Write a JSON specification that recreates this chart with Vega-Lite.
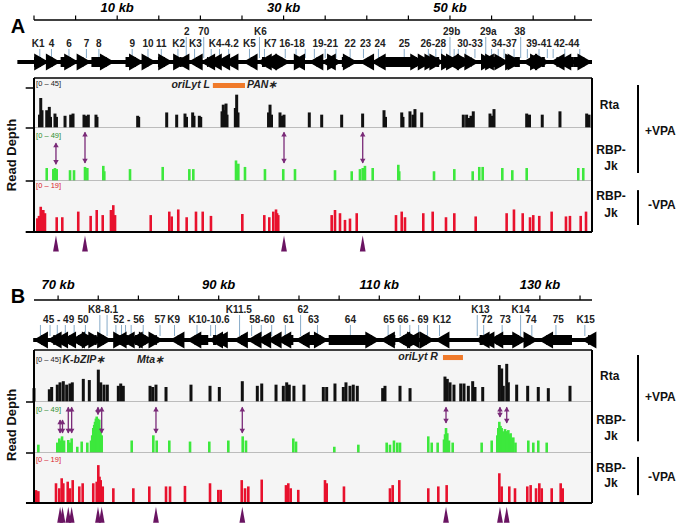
{
"$schema":"https://vega.github.io/schema/vega-lite/v6.json",
"width":683,"height":528,"autosize":{"type":"none"},"padding":0,"background":"white",
"config":{"view":{"stroke":null},"font":"Liberation Sans","text":{"font":"Liberation Sans"}},
"datasets":{
"rulerA":[{"k":0},{"k":5},{"k":10},{"k":15},{"k":20},{"k":25},{"k":30},{"k":35},{"k":40},{"k":45},{"k":50},{"k":55},{"k":60},{"k":65}],
"kbA":[{"k":10,"t":"10 kb"},{"k":30,"t":"30 kb"},{"k":50,"t":"50 kb"}],
"rulerB":[{"k":70},{"k":75},{"k":80},{"k":85},{"k":90},{"k":95},{"k":100},{"k":105},{"k":110},{"k":115},{"k":120},{"k":125},{"k":130},{"k":135}],
"kbB":[{"k":70,"t":"70 kb"},{"k":90,"t":"90 kb"},{"k":110,"t":"110 kb"},{"k":130,"t":"130 kb"}],
"genesA":[
{"n":"K1","s":0.0,"e":1.8,"d":"+","m":0.7},{"n":"4","s":1.8,"e":3.2,"d":"+","m":2.1},{"n":"6","s":3.2,"e":5.4,"d":"+","m":4.2},{"n":"7","s":5.4,"e":6.9,"d":"+","m":6.3},{"n":"8","s":6.9,"e":9.7,"d":"+","m":7.8},{"n":"9","s":11.0,"e":13.2,"d":"+","m":11.8},{"n":"10","s":13.2,"e":14.7,"d":"+","m":13.7},{"n":"11","s":14.9,"e":16.7,"d":"+","m":15.3},{"n":"K2","s":16.9,"e":17.7,"d":"-","m":17.3},{"n":"2","s":17.7,"e":18.5,"d":"+","m":18.3},{"n":"K3","s":18.5,"e":20.0,"d":"-","m":19.3},{"n":"70","s":20.0,"e":20.8,"d":"-","m":20.4},{"n":"K4","s":20.8,"e":21.8,"d":"-","m":21.3},{"n":"K4.1","s":21.8,"e":22.8,"d":"-","m":22.3},{"n":"K4.2","s":22.8,"e":23.9,"d":"-","m":23.4},{"n":"K5","s":25.1,"e":26.8,"d":"-","m":25.9},{"n":"K6","s":26.8,"e":27.4,"d":"-","m":27.1},{"n":"K7","s":27.4,"e":28.0,"d":"-","m":27.7},{"n":"16","s":29.6,"e":30.8,"d":"+","m":30.2},{"n":"17","s":30.8,"e":32.2,"d":"-","m":31.5},{"n":"18","s":32.2,"e":33.0,"d":"+","m":32.6},{"n":"19","s":33.0,"e":34.5,"d":"-","m":33.7},{"n":"20","s":34.5,"e":35.6,"d":"-","m":35.0},{"n":"21","s":35.6,"e":37.0,"d":"+","m":36.3},{"n":"22","s":37.0,"e":38.9,"d":"+","m":38.0},{"n":"23","s":39.1,"e":40.1,"d":"-","m":39.6},{"n":"24","s":40.5,"e":42.3,"d":"-","m":41.4},{"n":"25","s":42.3,"e":47.0,"d":"+","m":44.5},{"n":"26","s":47.0,"e":47.9,"d":"+","m":47.4},{"n":"27","s":47.9,"e":48.7,"d":"+","m":48.3},{"n":"28","s":48.7,"e":49.3,"d":"+","m":49.0},{"n":"29b","s":49.3,"e":50.2,"d":"-","m":50.0},{"n":"30","s":50.2,"e":50.7,"d":"+","m":50.5},{"n":"31","s":50.7,"e":51.3,"d":"+","m":51.0},{"n":"32","s":51.3,"e":52.6,"d":"+","m":51.9},{"n":"33","s":52.6,"e":53.5,"d":"+","m":53.0},{"n":"29a","s":53.5,"e":54.6,"d":"-","m":54.3},{"n":"34","s":54.6,"e":55.5,"d":"+","m":55.0},{"n":"35","s":55.5,"e":56.0,"d":"+","m":55.8},{"n":"36","s":56.0,"e":57.1,"d":"+","m":56.5},{"n":"37","s":57.1,"e":58.4,"d":"+","m":57.7},{"n":"38","s":58.4,"e":58.7,"d":"+","m":58.5},{"n":"39","s":58.7,"e":60.0,"d":"-","m":59.3},{"n":"40","s":60.1,"e":61.4,"d":"+","m":60.7},{"n":"41","s":61.4,"e":62.0,"d":"+","m":61.7},{"n":"42","s":62.0,"e":62.8,"d":"-","m":62.4},{"n":"43","s":62.8,"e":64.8,"d":"-","m":63.8},{"n":"44","s":64.8,"e":67.1,"d":"+","m":65.6}],
"genesB":[
{"n":"45","s":66.9,"e":68.6,"d":"-","m":67.8},{"n":"46","s":68.6,"e":69.4,"d":"-","m":69.0},{"n":"47","s":69.4,"e":70.4,"d":"-","m":69.9},{"n":"48","s":70.4,"e":71.5,"d":"-","m":70.9},{"n":"49","s":71.5,"e":72.5,"d":"-","m":72.0},{"n":"50","s":72.5,"e":74.8,"d":"+","m":73.4},{"n":"K8","s":74.8,"e":75.6,"d":"+","m":75.2},{"n":"K8.1","s":75.6,"e":76.7,"d":"+","m":76.1},{"n":"52","s":76.7,"e":77.7,"d":"-","m":77.2},{"n":"53","s":77.7,"e":78.2,"d":"-","m":77.9},{"n":"54","s":78.2,"e":78.7,"d":"+","m":78.4},{"n":"55","s":78.7,"e":79.6,"d":"-","m":79.1},{"n":"56","s":79.6,"e":81.9,"d":"+","m":80.6},{"n":"57","s":82.3,"e":83.1,"d":"+","m":82.7},{"n":"K9","s":83.9,"e":85.2,"d":"-","m":84.5},{"n":"K10","s":86.0,"e":88.7,"d":"-","m":87.3},{"n":"K10.5","s":88.7,"e":89.3,"d":"-","m":89.0},{"n":"K10.6","s":89.3,"e":90.0,"d":"-","m":89.6},{"n":"K11.5","s":91.8,"e":93.1,"d":"-","m":92.6},{"n":"58","s":93.5,"e":94.7,"d":"-","m":94.1},{"n":"59","s":94.7,"e":96.0,"d":"-","m":95.3},{"n":"60","s":96.0,"e":97.2,"d":"-","m":96.6},{"n":"61","s":97.2,"e":99.3,"d":"-","m":98.3},{"n":"62","s":99.5,"e":100.7,"d":"-","m":100.2},{"n":"63","s":101.0,"e":103.7,"d":"+","m":102.3},{"n":"64","s":103.7,"e":110.1,"d":"+","m":106.4},{"n":"65","s":110.1,"e":112.0,"d":"-","m":111.1},{"n":"66","s":112.0,"e":113.2,"d":"-","m":112.6},{"n":"67","s":113.2,"e":114.4,"d":"-","m":113.8},{"n":"68","s":114.4,"e":115.3,"d":"+","m":114.9},{"n":"69","s":115.3,"e":116.9,"d":"+","m":116.0},{"n":"K12","s":116.9,"e":117.9,"d":"-","m":117.5},{"n":"K13","s":121.9,"e":122.5,"d":"-","m":122.2},{"n":"72","s":122.5,"e":123.6,"d":"-","m":123.0},{"n":"73","s":123.6,"e":127.1,"d":"-","m":125.3},{"n":"K14","s":127.1,"e":128.4,"d":"+","m":127.6},{"n":"74","s":128.4,"e":129.8,"d":"+","m":129.0},{"n":"75","s":129.8,"e":134.0,"d":"-","m":132.0},{"n":"K15","s":135.2,"e":136.0,"d":"-","m":135.6}],
"labelsA":[
{"t":"K1","k":0.5,"r":"lo"},{"t":"4","k":2.1,"r":"lo"},{"t":"6","k":4.2,"r":"lo"},{"t":"7","k":6.3,"r":"lo"},{"t":"8","k":7.8,"r":"lo"},{"t":"9","k":11.8,"r":"lo"},{"t":"10","k":13.7,"r":"lo"},{"t":"11","k":15.3,"r":"lo"},{"t":"K2","k":17.4,"r":"lo"},{"t":"K3","k":19.4,"r":"lo"},{"t":"K4-4.2","k":22.8,"r":"lo"},{"t":"K5","k":25.9,"r":"lo"},{"t":"K7","k":28.4,"r":"lo"},{"t":"16-18","k":31.0,"r":"lo"},{"t":"19-21","k":35.0,"r":"lo"},{"t":"22","k":38.0,"r":"lo"},{"t":"23","k":39.85,"r":"lo"},{"t":"24","k":41.6,"r":"lo"},{"t":"25","k":44.5,"r":"lo"},{"t":"26-28","k":48.0,"r":"lo"},{"t":"30-33","k":52.4,"r":"lo"},{"t":"34-37","k":56.5,"r":"lo"},{"t":"39-41","k":60.7,"r":"lo"},{"t":"42-44","k":64.0,"r":"lo"},
{"t":"2","k":18.35,"r":"hi"},{"t":"70","k":20.4,"r":"hi"},{"t":"K6","k":27.2,"r":"hi"},{"t":"29b","k":50.2,"r":"hi"},{"t":"29a","k":54.6,"r":"hi"},{"t":"38","k":58.4,"r":"hi"}],
"labelsB":[
{"t":"45 - 49","k":70.07,"r":"lo"},{"t":"50","k":73.1,"r":"lo"},{"t":"52 - 56","k":78.8,"r":"lo"},{"t":"57","k":82.7,"r":"lo"},{"t":"K9","k":84.4,"r":"lo"},{"t":"K10-10.6","k":88.8,"r":"lo"},{"t":"58-60","k":95.4,"r":"lo"},{"t":"61","k":98.7,"r":"lo"},{"t":"63","k":101.8,"r":"lo"},{"t":"64","k":106.4,"r":"lo"},{"t":"65","k":111.2,"r":"lo"},{"t":"66 - 69","k":114.2,"r":"lo"},{"t":"K12","k":117.8,"r":"lo"},{"t":"72","k":123.4,"r":"lo"},{"t":"73","k":125.7,"r":"lo"},{"t":"74","k":128.9,"r":"lo"},{"t":"75","k":132.3,"r":"lo"},{"t":"K15","k":135.7,"r":"lo"},
{"t":"K8-8.1","k":75.6,"r":"hi"},{"t":"K11.5","k":92.5,"r":"hi"},{"t":"62","k":100.5,"r":"hi"},{"t":"K13","k":122.6,"r":"hi"},{"t":"K14","k":127.6,"r":"hi"}],
"rtaA":[{"k":0.66,"v":12},{"k":0.81,"v":27},{"k":0.96,"v":16},{"k":1.53,"v":16},{"k":1.68,"v":13},{"k":1.84,"v":19},{"k":1.98,"v":10},{"k":2.52,"v":13},{"k":2.7,"v":10},{"k":3.73,"v":11},{"k":4.41,"v":12},{"k":4.57,"v":10},{"k":4.69,"v":13},{"k":6.01,"v":12},{"k":6.25,"v":11},{"k":6.53,"v":12},{"k":7.45,"v":12},{"k":7.57,"v":10},{"k":12.46,"v":11},{"k":12.58,"v":10},{"k":15.95,"v":14},{"k":17.15,"v":12},{"k":18.15,"v":13},{"k":18.33,"v":10},{"k":19.07,"v":14},{"k":19.23,"v":11},{"k":19.87,"v":11},{"k":20.04,"v":10},{"k":22.6,"v":15},{"k":22.75,"v":21},{"k":22.92,"v":16},{"k":23.08,"v":22},{"k":23.2,"v":12},{"k":24.2,"v":18},{"k":24.36,"v":30},{"k":24.52,"v":14},{"k":28.19,"v":14},{"k":28.37,"v":21},{"k":28.55,"v":12},{"k":29.57,"v":14},{"k":29.81,"v":11},{"k":30.05,"v":12},{"k":33.09,"v":14},{"k":34.58,"v":12},{"k":36.98,"v":12},{"k":39.5,"v":13},{"k":42.07,"v":16},{"k":42.25,"v":10},{"k":44.2,"v":14},{"k":44.35,"v":10},{"k":45.19,"v":15},{"k":45.55,"v":12},{"k":45.79,"v":17},{"k":46.6,"v":14},{"k":51.6,"v":12},{"k":52.0,"v":12},{"k":52.28,"v":9},{"k":52.52,"v":11},{"k":52.8,"v":15},{"k":54.81,"v":13},{"k":55.05,"v":11},{"k":55.29,"v":17},{"k":59.22,"v":13},{"k":59.56,"v":12},{"k":61.09,"v":12},{"k":63.22,"v":15},{"k":66.43,"v":13},{"k":66.71,"v":12}],
"greenA":[{"k":1.53,"v":12},{"k":2.32,"v":11},{"k":2.52,"v":12},{"k":2.73,"v":11},{"k":4.33,"v":10},{"k":4.81,"v":10},{"k":6.13,"v":13},{"k":6.41,"v":12},{"k":8.33,"v":14},{"k":8.45,"v":9},{"k":11.54,"v":11},{"k":15.47,"v":13},{"k":18.67,"v":11},{"k":19.15,"v":11},{"k":24.28,"v":19},{"k":24.42,"v":12},{"k":24.56,"v":16},{"k":25.36,"v":13},{"k":27.76,"v":11},{"k":29.96,"v":11},{"k":31.37,"v":11},{"k":36.18,"v":10},{"k":38.19,"v":9},{"k":39.18,"v":11},{"k":39.51,"v":12},{"k":39.78,"v":14},{"k":40.71,"v":12},{"k":43.79,"v":15},{"k":43.9,"v":9},{"k":48.08,"v":9},{"k":50.52,"v":11},{"k":52.73,"v":9},{"k":53.52,"v":13},{"k":53.93,"v":13},{"k":56.29,"v":12},{"k":57.49,"v":10},{"k":59.22,"v":12},{"k":65.42,"v":12},{"k":66.02,"v":12}],
"redA":[{"k":0.4,"v":5.1},{"k":0.6,"v":6},{"k":0.81,"v":9.4},{"k":0.96,"v":7},{"k":1.12,"v":8.2},{"k":1.32,"v":7},{"k":2.73,"v":5.5},{"k":3.4,"v":5.5},{"k":5.32,"v":7.6},{"k":6.81,"v":6},{"k":7.54,"v":8.2},{"k":8.26,"v":6.3},{"k":9.25,"v":8.2},{"k":9.4,"v":7},{"k":9.53,"v":10},{"k":9.74,"v":6.3},{"k":14.03,"v":6.3},{"k":16.26,"v":7.6},{"k":16.55,"v":5.8},{"k":17.34,"v":8.4},{"k":18.35,"v":5.5},{"k":19.47,"v":7.6},{"k":20.28,"v":7.6},{"k":21.27,"v":6},{"k":25.04,"v":6.7},{"k":27.68,"v":6.3},{"k":28.28,"v":5.5},{"k":28.76,"v":7.6},{"k":29.09,"v":8.4},{"k":29.22,"v":7},{"k":29.36,"v":6.3},{"k":35.78,"v":6.3},{"k":36.18,"v":8.2},{"k":36.78,"v":7},{"k":37.38,"v":4.5},{"k":37.98,"v":5},{"k":38.79,"v":7},{"k":43.51,"v":6.3},{"k":44.2,"v":7.6},{"k":44.59,"v":5.5},{"k":46.79,"v":7},{"k":47.92,"v":7.6},{"k":49.52,"v":5.5},{"k":50.52,"v":7},{"k":53.09,"v":5.8},{"k":56.81,"v":7},{"k":57.69,"v":8.4},{"k":58.74,"v":7},{"k":59.62,"v":5.5},{"k":60.01,"v":6.3},{"k":60.73,"v":6},{"k":62.22,"v":7.6},{"k":63.94,"v":5.8},{"k":64.42,"v":6},{"k":65.71,"v":6},{"k":66.35,"v":7.6}],
"rtaB":[{"k":67.0,"v":12},{"k":68.91,"v":11},{"k":69.2,"v":13},{"k":69.9,"v":15},{"k":70.24,"v":17},{"k":70.65,"v":18},{"k":71.07,"v":15},{"k":71.48,"v":16},{"k":71.77,"v":17},{"k":73.14,"v":20},{"k":73.89,"v":19},{"k":75.01,"v":28},{"k":75.31,"v":17},{"k":75.72,"v":15},{"k":76.13,"v":15},{"k":77.5,"v":14},{"k":77.8,"v":16},{"k":78.12,"v":14},{"k":81.45,"v":14},{"k":81.78,"v":13},{"k":82.19,"v":15},{"k":83.44,"v":13},{"k":86.55,"v":15},{"k":88.92,"v":14},{"k":90.08,"v":13},{"k":92.94,"v":18},{"k":94.81,"v":14},{"k":95.36,"v":16},{"k":97.14,"v":15},{"k":98.05,"v":14},{"k":98.47,"v":17},{"k":98.79,"v":15},{"k":99.37,"v":14},{"k":100.62,"v":15},{"k":103.03,"v":13},{"k":103.45,"v":13},{"k":104.48,"v":16},{"k":105.52,"v":13},{"k":105.85,"v":17},{"k":106.35,"v":14},{"k":106.76,"v":15},{"k":107.26,"v":14},{"k":110.42,"v":12},{"k":110.71,"v":14},{"k":112.58,"v":14},{"k":113.83,"v":12},{"k":118.18,"v":22},{"k":118.47,"v":20},{"k":118.81,"v":17},{"k":119.3,"v":15},{"k":120.14,"v":16},{"k":120.55,"v":16},{"k":121.09,"v":14},{"k":121.63,"v":18},{"k":121.92,"v":13},{"k":122.88,"v":13},{"k":124.95,"v":32},{"k":125.24,"v":29},{"k":125.44,"v":14},{"k":125.87,"v":33},{"k":126.07,"v":17},{"k":127.11,"v":15},{"k":128.48,"v":14},{"k":129.8,"v":13},{"k":131.05,"v":12},{"k":133.75,"v":14}],
"greenB":[{"k":67.54,"v":8},{"k":69.9,"v":10},{"k":70.15,"v":14},{"k":70.32,"v":12},{"k":70.49,"v":16},{"k":70.74,"v":12},{"k":71.27,"v":12.5},{"k":71.48,"v":10},{"k":71.69,"v":14},{"k":72.39,"v":6},{"k":72.94,"v":11},{"k":73.64,"v":10},{"k":74.1,"v":12},{"k":74.25,"v":17},{"k":74.38,"v":24},{"k":74.5,"v":27},{"k":74.6,"v":30},{"k":74.71,"v":33},{"k":74.81,"v":35},{"k":74.97,"v":33},{"k":75.13,"v":32},{"k":75.28,"v":24},{"k":75.43,"v":17},{"k":79.17,"v":12},{"k":81.86,"v":17},{"k":82.28,"v":12},{"k":83.85,"v":12},{"k":86.43,"v":11},{"k":88.83,"v":11},{"k":91.2,"v":12},{"k":92.99,"v":16},{"k":93.4,"v":12},{"k":99.29,"v":14},{"k":99.63,"v":11},{"k":104.4,"v":6},{"k":107.39,"v":8},{"k":110.92,"v":10},{"k":111.33,"v":8},{"k":111.83,"v":12},{"k":112.24,"v":10},{"k":112.58,"v":10},{"k":116.1,"v":16},{"k":116.53,"v":10},{"k":117.27,"v":10},{"k":118.06,"v":13},{"k":118.19,"v":18},{"k":118.31,"v":24},{"k":118.47,"v":19},{"k":118.68,"v":12},{"k":119.14,"v":10},{"k":122.75,"v":10},{"k":124.0,"v":12},{"k":124.7,"v":17},{"k":124.82,"v":24},{"k":124.95,"v":30},{"k":125.1,"v":26},{"k":125.24,"v":24},{"k":125.35,"v":21},{"k":125.47,"v":20},{"k":125.66,"v":23},{"k":125.87,"v":21},{"k":126.07,"v":22},{"k":126.22,"v":18},{"k":126.36,"v":19},{"k":126.52,"v":14},{"k":126.69,"v":15},{"k":126.96,"v":10},{"k":128.56,"v":12},{"k":129.18,"v":10},{"k":129.8,"v":12},{"k":130.85,"v":10}],
"redB":[{"k":67.25,"v":4.9},{"k":67.54,"v":4.5},{"k":69.74,"v":7.5},{"k":70.15,"v":5.6},{"k":70.45,"v":9.4},{"k":70.65,"v":7.5},{"k":71.2,"v":8.1},{"k":71.48,"v":5.6},{"k":71.82,"v":8.7},{"k":72.64,"v":6.3},{"k":73.06,"v":7.5},{"k":74.38,"v":7.5},{"k":74.81,"v":8.1},{"k":75.01,"v":14.4},{"k":75.16,"v":10},{"k":75.31,"v":8.7},{"k":75.56,"v":6.3},{"k":76.88,"v":5.6},{"k":79.37,"v":5.6},{"k":81.36,"v":6.3},{"k":83.44,"v":6.3},{"k":83.94,"v":6.3},{"k":85.8,"v":6.5},{"k":88.92,"v":7.5},{"k":89.95,"v":5},{"k":90.25,"v":5},{"k":92.87,"v":8.7},{"k":93.28,"v":5.6},{"k":93.69,"v":6.3},{"k":95.36,"v":8.9},{"k":98.38,"v":6.8},{"k":98.67,"v":7.5},{"k":98.97,"v":5.6},{"k":99.91,"v":5},{"k":103.24,"v":8.7},{"k":103.45,"v":7.5},{"k":105.6,"v":6.3},{"k":111.33,"v":5.6},{"k":111.67,"v":6.8},{"k":112.49,"v":8.7},{"k":116.1,"v":5.6},{"k":117.35,"v":6.3},{"k":118.39,"v":6.8},{"k":124.95,"v":11.3},{"k":125.24,"v":6.3},{"k":126.19,"v":6.3},{"k":126.9,"v":5.6},{"k":128.43,"v":6.3},{"k":128.85,"v":6.8},{"k":129.52,"v":5.6},{"k":129.93,"v":7.5},{"k":130.23,"v":5.6},{"k":131.47,"v":5.6},{"k":132.59,"v":7.5},{"k":132.84,"v":5.6}],
"sitesA":[{"k":2.64,"hi":35,"lo":15.5},{"k":6.13,"hi":45,"lo":16.6},{"k":30.05,"hi":45,"lo":16.6},{"k":39.51,"hi":45,"lo":16.6}],
"sitesB":[{"k":70.25,"hi":31.7,"lo":19.2},{"k":70.55,"hi":31.7,"lo":19.2},{"k":71.27,"hi":44,"lo":19.2},{"k":71.69,"hi":44,"lo":19.2},{"k":74.97,"hi":44,"lo":37},{"k":75.43,"hi":44,"lo":19.2},{"k":82.19,"hi":44,"lo":19.2},{"k":92.94,"hi":44,"lo":19.2},{"k":118.31,"hi":44,"lo":28.8},{"k":125.03,"hi":44,"lo":34.6},{"k":125.87,"hi":44,"lo":28.8}]
},
"layer":[
{"layer":[
 {"layer":[
  {"data":{"values":[{}]},"mark":{"type":"rule","strokeWidth":1.5,"color":"black"},"encoding":{"x":{"datum":0,"scale":{"domain":[0,67.07],"range":[34,592],"nice":false,"zero":false},"axis":null},"x2":{"datum":67.07},"y":{"datum":20,"scale":{"domain":[0,78],"range":[0,78],"nice":false,"zero":false},"axis":null}}},
  {"data":{"name":"rulerA"},"mark":{"type":"rule","strokeWidth":1.2,"color":"black"},"encoding":{"x":{"field":"k","type":"quantitative","scale":{"domain":[0,67.07],"range":[34,592],"nice":false,"zero":false},"axis":null},"y":{"datum":15.5,"scale":{"domain":[0,78],"range":[0,78],"nice":false,"zero":false},"axis":null},"y2":{"datum":20}}},
  {"data":{"name":"kbA"},"mark":{"type":"text","fontSize":13,"fontWeight":"bold","fontStyle":"italic","color":"black"},"encoding":{"x":{"field":"k","type":"quantitative","scale":{"domain":[0,67.07],"range":[34,592],"nice":false,"zero":false},"axis":null},"y":{"datum":8,"scale":{"domain":[0,78],"range":[0,78],"nice":false,"zero":false},"axis":null},"text":{"field":"t"}}},
  {"data":{"values":[{}]},"mark":{"type":"rule","strokeWidth":4,"color":"black"},"encoding":{"x":{"datum":-2,"scale":{"domain":[0,67.07],"range":[34,592],"nice":false,"zero":false},"axis":null},"x2":{"datum":67.07},"y":{"datum":62,"scale":{"domain":[0,78],"range":[0,78],"nice":false,"zero":false},"axis":null}}},
  {"data":{"name":"genesA"},"mark":{"type":"rule","color":"#86aac8","strokeWidth":1},"encoding":{"x":{"field":"m","type":"quantitative","scale":{"domain":[0,67.07],"range":[34,592],"nice":false,"zero":false},"axis":null},"y":{"datum":49,"scale":{"domain":[0,78],"range":[0,78],"nice":false,"zero":false},"axis":null},"y2":{"datum":58}}},
  {"data":{"name":"genesA"},"transform":[{"filter":{"field":"n","oneOf":["2","70","K6","29b","29a","38"]}}],"mark":{"type":"rule","color":"#86aac8","strokeWidth":1},"encoding":{"x":{"field":"m","type":"quantitative","scale":{"domain":[0,67.07],"range":[34,592],"nice":false,"zero":false},"axis":null},"y":{"datum":37,"scale":{"domain":[0,78],"range":[0,78],"nice":false,"zero":false},"axis":null},"y2":{"datum":49}}},
  {"data":{"name":"genesA"},"transform":[{"filter":"datum.d == '+'"}],"mark":{"type":"rect","color":"black","x2Offset":-8},"encoding":{"x":{"field":"s","type":"quantitative","scale":{"domain":[0,67.07],"range":[34,592],"nice":false,"zero":false},"axis":null},"x2":{"field":"e"},"y":{"datum":57,"scale":{"domain":[0,78],"range":[0,78],"nice":false,"zero":false},"axis":null},"y2":{"datum":67}}},
  {"data":{"name":"genesA"},"transform":[{"filter":"datum.d == '-'"}],"mark":{"type":"rect","color":"black","xOffset":8},"encoding":{"x":{"field":"s","type":"quantitative","scale":{"domain":[0,67.07],"range":[34,592],"nice":false,"zero":false},"axis":null},"x2":{"field":"e"},"y":{"datum":57,"scale":{"domain":[0,78],"range":[0,78],"nice":false,"zero":false},"axis":null},"y2":{"datum":67}}},
  {"data":{"name":"genesA"},"transform":[{"filter":"datum.d == '+'"}],"mark":{"type":"point","shape":"triangle-right","size":289,"filled":true,"color":"black","opacity":1,"strokeWidth":0,"xOffset":-7.4},"encoding":{"x":{"field":"e","type":"quantitative","scale":{"domain":[0,67.07],"range":[34,592],"nice":false,"zero":false},"axis":null},"y":{"datum":62,"scale":{"domain":[0,78],"range":[0,78],"nice":false,"zero":false},"axis":null}}},
  {"data":{"name":"genesA"},"transform":[{"filter":"datum.d == '-'"}],"mark":{"type":"point","shape":"triangle-left","size":289,"filled":true,"color":"black","opacity":1,"strokeWidth":0,"xOffset":7.4},"encoding":{"x":{"field":"s","type":"quantitative","scale":{"domain":[0,67.07],"range":[34,592],"nice":false,"zero":false},"axis":null},"y":{"datum":62,"scale":{"domain":[0,78],"range":[0,78],"nice":false,"zero":false},"axis":null}}},
  {"data":{"name":"labelsA"},"transform":[{"filter":"datum.r == 'lo'"}],"mark":{"type":"text","fontSize":10,"fontWeight":"bold","color":"#222"},"encoding":{"x":{"field":"k","type":"quantitative","scale":{"domain":[0,67.07],"range":[34,592],"nice":false,"zero":false},"axis":null},"y":{"datum":44,"scale":{"domain":[0,78],"range":[0,78],"nice":false,"zero":false},"axis":null},"text":{"field":"t"}}},
  {"data":{"name":"labelsA"},"transform":[{"filter":"datum.r == 'hi'"}],"mark":{"type":"text","fontSize":10,"fontWeight":"bold","color":"#222"},"encoding":{"x":{"field":"k","type":"quantitative","scale":{"domain":[0,67.07],"range":[34,592],"nice":false,"zero":false},"axis":null},"y":{"datum":32,"scale":{"domain":[0,78],"range":[0,78],"nice":false,"zero":false},"axis":null},"text":{"field":"t"}}},
  {"data":{"values":[{}]},"mark":{"type":"text","text":"A","fontSize":20,"fontWeight":"bold","color":"black"},"encoding":{"x":{"datum":-1.92,"scale":{"domain":[0,67.07],"range":[34,592],"nice":false,"zero":false},"axis":null},"y":{"datum":27,"scale":{"domain":[0,78],"range":[0,78],"nice":false,"zero":false},"axis":null}}}
 ]},
 {"layer":[
  {"data":{"values":[{}]},"mark":{"type":"rect","color":"#f5f5f5"},"encoding":{"x":{"datum":0,"scale":{"domain":[0,67.07],"range":[34,592],"nice":false,"zero":false},"axis":null},"x2":{"datum":67.07},"y":{"datum":0,"scale":{"domain":[0,45],"range":[128,78],"nice":false,"zero":false},"axis":null},"y2":{"datum":45}}},
  {"data":{"name":"rtaA"},"mark":{"type":"rule","color":"#111","strokeWidth":3},"encoding":{"x":{"field":"k","type":"quantitative","scale":{"domain":[0,67.07],"range":[34,592],"nice":false,"zero":false},"axis":null},"y":{"field":"v","type":"quantitative","scale":{"domain":[0,45],"range":[128,78],"nice":false,"zero":false},"axis":null},"y2":{"datum":0}}},
  {"data":{"values":[{}]},"mark":{"type":"rule","color":"#a8a8a8","strokeWidth":1.5},"encoding":{"x":{"datum":0,"scale":{"domain":[0,67.07],"range":[34,592],"nice":false,"zero":false},"axis":null},"x2":{"datum":67.07},"y":{"datum":0,"scale":{"domain":[0,45],"range":[128,78],"nice":false,"zero":false},"axis":null}}},
  {"data":{"values":[{}]},"mark":{"type":"rule","color":"black","strokeWidth":1.5},"encoding":{"x":{"datum":0,"scale":{"domain":[0,67.07],"range":[34,592],"nice":false,"zero":false},"axis":null},"x2":{"datum":67.07},"y":{"datum":45,"scale":{"domain":[0,45],"range":[128,78],"nice":false,"zero":false},"axis":null}}},
  {"data":{"values":[{"p":0},{"p":67.07}]},"mark":{"type":"rule","color":"black","strokeWidth":2},"encoding":{"x":{"field":"p","type":"quantitative","scale":{"domain":[0,67.07],"range":[34,592],"nice":false,"zero":false},"axis":null},"y":{"datum":0,"scale":{"domain":[0,45],"range":[128,78],"nice":false,"zero":false},"axis":null},"y2":{"datum":45}}},
  {"data":{"values":[{"v":0},{"v":36}]},"mark":{"type":"rule","color":"black","strokeWidth":1.5},"encoding":{"x":{"datum":-1,"scale":{"domain":[0,67.07],"range":[34,592],"nice":false,"zero":false},"axis":null},"x2":{"datum":0},"y":{"field":"v","type":"quantitative","scale":{"domain":[0,45],"range":[128,78],"nice":false,"zero":false},"axis":null}}},
  {"data":{"values":[{}]},"mark":{"type":"text","text":"[0 – 45]","fontSize":7.5,"align":"left","color":"#222"},"encoding":{"x":{"datum":0.25,"scale":{"domain":[0,67.07],"range":[34,592],"nice":false,"zero":false},"axis":null},"y":{"datum":39.6,"scale":{"domain":[0,45],"range":[128,78],"nice":false,"zero":false},"axis":null}}},
  {"data":{"values":[{}]},"mark":{"type":"rect","color":"#f07a2a"},"encoding":{"x":{"datum":21.5,"scale":{"domain":[0,67.07],"range":[34,592],"nice":false,"zero":false},"axis":null},"x2":{"datum":25.36},"y":{"datum":40.5,"scale":{"domain":[0,45],"range":[128,78],"nice":false,"zero":false},"axis":null},"y2":{"datum":36}}},
  {"data":{"values":[{}]},"mark":{"type":"text","text":"oriLyt L","fontSize":10.5,"fontWeight":"bold","fontStyle":"italic","align":"right","color":"#222"},"encoding":{"x":{"datum":21.15,"scale":{"domain":[0,67.07],"range":[34,592],"nice":false,"zero":false},"axis":null},"y":{"datum":38.5,"scale":{"domain":[0,45],"range":[128,78],"nice":false,"zero":false},"axis":null}}},
  {"data":{"values":[{}]},"mark":{"type":"text","text":"PAN∗","fontSize":10.5,"fontWeight":"bold","fontStyle":"italic","align":"left","color":"#222"},"encoding":{"x":{"datum":25.6,"scale":{"domain":[0,67.07],"range":[34,592],"nice":false,"zero":false},"axis":null},"y":{"datum":38.5,"scale":{"domain":[0,45],"range":[128,78],"nice":false,"zero":false},"axis":null}}},
  {"data":{"values":[{}]},"mark":{"type":"text","text":"Rta","fontSize":12,"fontWeight":"bold","align":"left","color":"#111"},"encoding":{"x":{"datum":68.0,"scale":{"domain":[0,67.07],"range":[34,592],"nice":false,"zero":false},"axis":null},"y":{"datum":21,"scale":{"domain":[0,45],"range":[128,78],"nice":false,"zero":false},"axis":null}}},
  {"data":{"values":[{}]},"mark":{"type":"text","text":"+VPA","fontSize":12,"fontWeight":"bold","align":"left","color":"#111"},"encoding":{"x":{"datum":73.44,"scale":{"domain":[0,67.07],"range":[34,592],"nice":false,"zero":false},"axis":null},"y":{"datum":-3,"scale":{"domain":[0,45],"range":[128,78],"nice":false,"zero":false},"axis":null}}},
  {"data":{"values":[{}]},"mark":{"type":"rule","color":"black","strokeWidth":2},"encoding":{"x":{"datum":72.6,"scale":{"domain":[0,67.07],"range":[34,592],"nice":false,"zero":false},"axis":null},"y":{"datum":38.7,"scale":{"domain":[0,45],"range":[128,78],"nice":false,"zero":false},"axis":null},"y2":{"datum":-40.5}}}
 ]},
 {"layer":[
  {"data":{"values":[{}]},"mark":{"type":"rect","color":"#f5f5f5"},"encoding":{"x":{"datum":0,"scale":{"domain":[0,67.07],"range":[34,592],"nice":false,"zero":false},"axis":null},"x2":{"datum":67.07},"y":{"datum":0,"scale":{"domain":[0,49],"range":[181,128],"nice":false,"zero":false},"axis":null},"y2":{"datum":49}}},
  {"data":{"name":"greenA"},"mark":{"type":"rule","color":"#3de83d","strokeWidth":2.6},"encoding":{"x":{"field":"k","type":"quantitative","scale":{"domain":[0,67.07],"range":[34,592],"nice":false,"zero":false},"axis":null},"y":{"field":"v","type":"quantitative","scale":{"domain":[0,49],"range":[181,128],"nice":false,"zero":false},"axis":null},"y2":{"datum":0}}},
  {"data":{"values":[{}]},"mark":{"type":"rule","color":"#a8a8a8","strokeWidth":1.5},"encoding":{"x":{"datum":0,"scale":{"domain":[0,67.07],"range":[34,592],"nice":false,"zero":false},"axis":null},"x2":{"datum":67.07},"y":{"datum":0,"scale":{"domain":[0,49],"range":[181,128],"nice":false,"zero":false},"axis":null}}},
  {"data":{"values":[{"p":0},{"p":67.07}]},"mark":{"type":"rule","color":"black","strokeWidth":2},"encoding":{"x":{"field":"p","type":"quantitative","scale":{"domain":[0,67.07],"range":[34,592],"nice":false,"zero":false},"axis":null},"y":{"datum":0,"scale":{"domain":[0,49],"range":[181,128],"nice":false,"zero":false},"axis":null},"y2":{"datum":49}}},
  {"data":{"values":[{}]},"mark":{"type":"rule","color":"black","strokeWidth":1.5},"encoding":{"x":{"datum":-1,"scale":{"domain":[0,67.07],"range":[34,592],"nice":false,"zero":false},"axis":null},"x2":{"datum":0},"y":{"datum":0,"scale":{"domain":[0,49],"range":[181,128],"nice":false,"zero":false},"axis":null}}},
  {"data":{"values":[{}]},"mark":{"type":"text","text":"[0 – 49]","fontSize":7.5,"align":"left","color":"#2f8f2f"},"encoding":{"x":{"datum":0.25,"scale":{"domain":[0,67.07],"range":[34,592],"nice":false,"zero":false},"axis":null},"y":{"datum":41.6,"scale":{"domain":[0,49],"range":[181,128],"nice":false,"zero":false},"axis":null}}},
  {"data":{"name":"sitesA"},"mark":{"type":"rule","color":"#7a2a78","strokeWidth":1.3},"encoding":{"x":{"field":"k","type":"quantitative","scale":{"domain":[0,67.07],"range":[34,592],"nice":false,"zero":false},"axis":null},"y":{"field":"hi","type":"quantitative","scale":{"domain":[0,49],"range":[181,128],"nice":false,"zero":false},"axis":null},"y2":{"field":"lo"}}},
  {"data":{"name":"sitesA"},"mark":{"type":"point","shape":"triangle-up","size":30,"filled":true,"opacity":1,"color":"#7a2a78","yOffset":1.8},"encoding":{"x":{"field":"k","type":"quantitative","scale":{"domain":[0,67.07],"range":[34,592],"nice":false,"zero":false},"axis":null},"y":{"field":"hi","type":"quantitative","scale":{"domain":[0,49],"range":[181,128],"nice":false,"zero":false},"axis":null}}},
  {"data":{"name":"sitesA"},"mark":{"type":"point","shape":"triangle-down","size":30,"filled":true,"opacity":1,"color":"#7a2a78","yOffset":-1.8},"encoding":{"x":{"field":"k","type":"quantitative","scale":{"domain":[0,67.07],"range":[34,592],"nice":false,"zero":false},"axis":null},"y":{"field":"lo","type":"quantitative","scale":{"domain":[0,49],"range":[181,128],"nice":false,"zero":false},"axis":null}}},
  {"data":{"values":[{"t":"RBP-","v":28.7},{"t":"Jk","v":13.9}]},"mark":{"type":"text","fontSize":12,"fontWeight":"bold","color":"#111"},"encoding":{"x":{"datum":69.35,"scale":{"domain":[0,67.07],"range":[34,592],"nice":false,"zero":false},"axis":null},"y":{"field":"v","type":"quantitative","scale":{"domain":[0,49],"range":[181,128],"nice":false,"zero":false},"axis":null},"text":{"field":"t"}}},
  {"data":{"values":[{}]},"mark":{"type":"text","text":"Read Depth","fontSize":13,"fontWeight":"bold","angle":270,"color":"#111"},"encoding":{"x":{"datum":-2.64,"scale":{"domain":[0,67.07],"range":[34,592],"nice":false,"zero":false},"axis":null},"y":{"datum":24,"scale":{"domain":[0,49],"range":[181,128],"nice":false,"zero":false},"axis":null}}}
 ]},
 {"layer":[
  {"data":{"values":[{}]},"mark":{"type":"rect","color":"#f5f5f5"},"encoding":{"x":{"datum":0,"scale":{"domain":[0,67.07],"range":[34,592],"nice":false,"zero":false},"axis":null},"x2":{"datum":67.07},"y":{"datum":0,"scale":{"domain":[0,19],"range":[232,181],"nice":false,"zero":false},"axis":null},"y2":{"datum":19}}},
  {"data":{"name":"redA"},"mark":{"type":"rule","color":"#e8112d","strokeWidth":2.6},"encoding":{"x":{"field":"k","type":"quantitative","scale":{"domain":[0,67.07],"range":[34,592],"nice":false,"zero":false},"axis":null},"y":{"field":"v","type":"quantitative","scale":{"domain":[0,19],"range":[232,181],"nice":false,"zero":false},"axis":null},"y2":{"datum":0}}},
  {"data":{"values":[{}]},"mark":{"type":"rule","color":"black","strokeWidth":2},"encoding":{"x":{"datum":-1,"scale":{"domain":[0,67.07],"range":[34,592],"nice":false,"zero":false},"axis":null},"x2":{"datum":67.07},"y":{"datum":0,"scale":{"domain":[0,19],"range":[232,181],"nice":false,"zero":false},"axis":null}}},
  {"data":{"values":[{"p":0},{"p":67.07}]},"mark":{"type":"rule","color":"black","strokeWidth":2},"encoding":{"x":{"field":"p","type":"quantitative","scale":{"domain":[0,67.07],"range":[34,592],"nice":false,"zero":false},"axis":null},"y":{"datum":0,"scale":{"domain":[0,19],"range":[232,181],"nice":false,"zero":false},"axis":null},"y2":{"datum":19}}},
  {"data":{"values":[{}]},"mark":{"type":"text","text":"[0 – 19]","fontSize":7.5,"align":"left","color":"#d9232f"},"encoding":{"x":{"datum":0.25,"scale":{"domain":[0,67.07],"range":[34,592],"nice":false,"zero":false},"axis":null},"y":{"datum":17.3,"scale":{"domain":[0,19],"range":[232,181],"nice":false,"zero":false},"axis":null}}},
  {"data":{"name":"sitesA"},"mark":{"type":"point","shape":"M -0.36 1 L 0 -1 L 0.36 1 Z","size":256,"filled":true,"opacity":1,"color":"#6a1462","strokeWidth":0},"encoding":{"x":{"field":"k","type":"quantitative","scale":{"domain":[0,67.07],"range":[34,592],"nice":false,"zero":false},"axis":null},"y":{"datum":-4.3,"scale":{"domain":[0,19],"range":[232,181],"nice":false,"zero":false},"axis":null}}},
  {"data":{"values":[{"t":"RBP-","v":13.4},{"t":"Jk","v":7.1}]},"mark":{"type":"text","fontSize":12,"fontWeight":"bold","color":"#111"},"encoding":{"x":{"datum":69.35,"scale":{"domain":[0,67.07],"range":[34,592],"nice":false,"zero":false},"axis":null},"y":{"field":"v","type":"quantitative","scale":{"domain":[0,19],"range":[232,181],"nice":false,"zero":false},"axis":null},"text":{"field":"t"}}},
  {"data":{"values":[{}]},"mark":{"type":"text","text":"-VPA","fontSize":12,"fontWeight":"bold","align":"left","color":"#111"},"encoding":{"x":{"datum":73.8,"scale":{"domain":[0,67.07],"range":[34,592],"nice":false,"zero":false},"axis":null},"y":{"datum":10.1,"scale":{"domain":[0,19],"range":[232,181],"nice":false,"zero":false},"axis":null}}},
  {"data":{"values":[{}]},"mark":{"type":"rule","color":"black","strokeWidth":2},"encoding":{"x":{"datum":72.6,"scale":{"domain":[0,67.07],"range":[34,592],"nice":false,"zero":false},"axis":null},"y":{"datum":15.6,"scale":{"domain":[0,19],"range":[232,181],"nice":false,"zero":false},"axis":null},"y2":{"datum":2.6}}}
 ]}
],"resolve":{"scale":{"y":"independent"},"axis":{"y":"independent"}}},
{"layer":[
 {"layer":[
  {"data":{"values":[{}]},"mark":{"type":"rule","strokeWidth":1.5,"color":"black"},"encoding":{"x":{"datum":67,"scale":{"domain":[67,136.49],"range":[34,592],"nice":false,"zero":false},"axis":null},"x2":{"datum":136.49},"y":{"datum":38,"scale":{"domain":[0,88],"range":[262,350],"nice":false,"zero":false},"axis":null}}},
  {"data":{"name":"rulerB"},"mark":{"type":"rule","strokeWidth":1.2,"color":"black"},"encoding":{"x":{"field":"k","type":"quantitative","scale":{"domain":[67,136.49],"range":[34,592],"nice":false,"zero":false},"axis":null},"y":{"datum":33.5,"scale":{"domain":[0,88],"range":[262,350],"nice":false,"zero":false},"axis":null},"y2":{"datum":38}}},
  {"data":{"name":"kbB"},"mark":{"type":"text","fontSize":13,"fontWeight":"bold","fontStyle":"italic","color":"black"},"encoding":{"x":{"field":"k","type":"quantitative","scale":{"domain":[67,136.49],"range":[34,592],"nice":false,"zero":false},"axis":null},"y":{"datum":23,"scale":{"domain":[0,88],"range":[262,350],"nice":false,"zero":false},"axis":null},"text":{"field":"t"}}},
  {"data":{"values":[{}]},"mark":{"type":"rule","strokeWidth":4,"color":"black"},"encoding":{"x":{"datum":66.9,"scale":{"domain":[67,136.49],"range":[34,592],"nice":false,"zero":false},"axis":null},"x2":{"datum":136.2},"y":{"datum":78,"scale":{"domain":[0,88],"range":[262,350],"nice":false,"zero":false},"axis":null}}},
  {"data":{"name":"genesB"},"mark":{"type":"rule","color":"#86aac8","strokeWidth":1},"encoding":{"x":{"field":"m","type":"quantitative","scale":{"domain":[67,136.49],"range":[34,592],"nice":false,"zero":false},"axis":null},"y":{"datum":63,"scale":{"domain":[0,88],"range":[262,350],"nice":false,"zero":false},"axis":null},"y2":{"datum":74}}},
  {"data":{"name":"genesB"},"transform":[{"filter":{"field":"n","oneOf":["K8","K8.1","K11.5","62","K13","K14"]}}],"mark":{"type":"rule","color":"#86aac8","strokeWidth":1},"encoding":{"x":{"field":"m","type":"quantitative","scale":{"domain":[67,136.49],"range":[34,592],"nice":false,"zero":false},"axis":null},"y":{"datum":53,"scale":{"domain":[0,88],"range":[262,350],"nice":false,"zero":false},"axis":null},"y2":{"datum":63}}},
  {"data":{"name":"genesB"},"transform":[{"filter":"datum.d == '+'"}],"mark":{"type":"rect","color":"black","x2Offset":-8},"encoding":{"x":{"field":"s","type":"quantitative","scale":{"domain":[67,136.49],"range":[34,592],"nice":false,"zero":false},"axis":null},"x2":{"field":"e"},"y":{"datum":73,"scale":{"domain":[0,88],"range":[262,350],"nice":false,"zero":false},"axis":null},"y2":{"datum":83}}},
  {"data":{"name":"genesB"},"transform":[{"filter":"datum.d == '-'"}],"mark":{"type":"rect","color":"black","xOffset":8},"encoding":{"x":{"field":"s","type":"quantitative","scale":{"domain":[67,136.49],"range":[34,592],"nice":false,"zero":false},"axis":null},"x2":{"field":"e"},"y":{"datum":73,"scale":{"domain":[0,88],"range":[262,350],"nice":false,"zero":false},"axis":null},"y2":{"datum":83}}},
  {"data":{"name":"genesB"},"transform":[{"filter":"datum.d == '+'"}],"mark":{"type":"point","shape":"triangle-right","size":289,"filled":true,"color":"black","opacity":1,"strokeWidth":0,"xOffset":-7.4},"encoding":{"x":{"field":"e","type":"quantitative","scale":{"domain":[67,136.49],"range":[34,592],"nice":false,"zero":false},"axis":null},"y":{"datum":78,"scale":{"domain":[0,88],"range":[262,350],"nice":false,"zero":false},"axis":null}}},
  {"data":{"name":"genesB"},"transform":[{"filter":"datum.d == '-'"}],"mark":{"type":"point","shape":"triangle-left","size":289,"filled":true,"color":"black","opacity":1,"strokeWidth":0,"xOffset":7.4},"encoding":{"x":{"field":"s","type":"quantitative","scale":{"domain":[67,136.49],"range":[34,592],"nice":false,"zero":false},"axis":null},"y":{"datum":78,"scale":{"domain":[0,88],"range":[262,350],"nice":false,"zero":false},"axis":null}}},
  {"data":{"name":"labelsB"},"transform":[{"filter":"datum.r == 'lo'"}],"mark":{"type":"text","fontSize":10,"fontWeight":"bold","color":"#222"},"encoding":{"x":{"field":"k","type":"quantitative","scale":{"domain":[67,136.49],"range":[34,592],"nice":false,"zero":false},"axis":null},"y":{"datum":58,"scale":{"domain":[0,88],"range":[262,350],"nice":false,"zero":false},"axis":null},"text":{"field":"t"}}},
  {"data":{"name":"labelsB"},"transform":[{"filter":"datum.r == 'hi'"}],"mark":{"type":"text","fontSize":10,"fontWeight":"bold","color":"#222"},"encoding":{"x":{"field":"k","type":"quantitative","scale":{"domain":[67,136.49],"range":[34,592],"nice":false,"zero":false},"axis":null},"y":{"datum":48,"scale":{"domain":[0,88],"range":[262,350],"nice":false,"zero":false},"axis":null},"text":{"field":"t"}}},
  {"data":{"values":[{}]},"mark":{"type":"text","text":"B","fontSize":20,"fontWeight":"bold","color":"black"},"encoding":{"x":{"datum":65.0,"scale":{"domain":[67,136.49],"range":[34,592],"nice":false,"zero":false},"axis":null},"y":{"datum":35,"scale":{"domain":[0,88],"range":[262,350],"nice":false,"zero":false},"axis":null}}}
 ]},
 {"layer":[
  {"data":{"values":[{}]},"mark":{"type":"rect","color":"#f5f5f5"},"encoding":{"x":{"datum":67,"scale":{"domain":[67,136.49],"range":[34,592],"nice":false,"zero":false},"axis":null},"x2":{"datum":136.49},"y":{"datum":0,"scale":{"domain":[0,45],"range":[402,350],"nice":false,"zero":false},"axis":null},"y2":{"datum":45}}},
  {"data":{"name":"rtaB"},"mark":{"type":"rule","color":"#111","strokeWidth":3},"encoding":{"x":{"field":"k","type":"quantitative","scale":{"domain":[67,136.49],"range":[34,592],"nice":false,"zero":false},"axis":null},"y":{"field":"v","type":"quantitative","scale":{"domain":[0,45],"range":[402,350],"nice":false,"zero":false},"axis":null},"y2":{"datum":0}}},
  {"data":{"values":[{}]},"mark":{"type":"rule","color":"#a8a8a8","strokeWidth":1.5},"encoding":{"x":{"datum":67,"scale":{"domain":[67,136.49],"range":[34,592],"nice":false,"zero":false},"axis":null},"x2":{"datum":136.49},"y":{"datum":0,"scale":{"domain":[0,45],"range":[402,350],"nice":false,"zero":false},"axis":null}}},
  {"data":{"values":[{}]},"mark":{"type":"rule","color":"black","strokeWidth":1.5},"encoding":{"x":{"datum":67,"scale":{"domain":[67,136.49],"range":[34,592],"nice":false,"zero":false},"axis":null},"x2":{"datum":136.49},"y":{"datum":45,"scale":{"domain":[0,45],"range":[402,350],"nice":false,"zero":false},"axis":null}}},
  {"data":{"values":[{"p":67},{"p":136.49}]},"mark":{"type":"rule","color":"black","strokeWidth":2},"encoding":{"x":{"field":"p","type":"quantitative","scale":{"domain":[67,136.49],"range":[34,592],"nice":false,"zero":false},"axis":null},"y":{"datum":0,"scale":{"domain":[0,45],"range":[402,350],"nice":false,"zero":false},"axis":null},"y2":{"datum":45}}},
  {"data":{"values":[{}]},"mark":{"type":"rule","color":"black","strokeWidth":1.5},"encoding":{"x":{"datum":66,"scale":{"domain":[67,136.49],"range":[34,592],"nice":false,"zero":false},"axis":null},"x2":{"datum":67},"y":{"datum":0,"scale":{"domain":[0,45],"range":[402,350],"nice":false,"zero":false},"axis":null}}},
  {"data":{"values":[{}]},"mark":{"type":"text","text":"[0 – 45]","fontSize":7.5,"align":"left","color":"#222"},"encoding":{"x":{"datum":67.25,"scale":{"domain":[67,136.49],"range":[34,592],"nice":false,"zero":false},"axis":null},"y":{"datum":36.3,"scale":{"domain":[0,45],"range":[402,350],"nice":false,"zero":false},"axis":null}}},
  {"data":{"values":[{"t":"K-bZIP∗","k":70.55},{"t":"Mta∗","k":79.83}]},"mark":{"type":"text","fontSize":10.5,"fontWeight":"bold","fontStyle":"italic","align":"left","color":"#222"},"encoding":{"x":{"field":"k","type":"quantitative","scale":{"domain":[67,136.49],"range":[34,592],"nice":false,"zero":false},"axis":null},"y":{"datum":36.3,"scale":{"domain":[0,45],"range":[402,350],"nice":false,"zero":false},"axis":null},"text":{"field":"t"}}},
  {"data":{"values":[{}]},"mark":{"type":"rect","color":"#f07a2a"},"encoding":{"x":{"datum":117.93,"scale":{"domain":[67,136.49],"range":[34,592],"nice":false,"zero":false},"axis":null},"x2":{"datum":120.42},"y":{"datum":40.7,"scale":{"domain":[0,45],"range":[402,350],"nice":false,"zero":false},"axis":null},"y2":{"datum":36.3}}},
  {"data":{"values":[{}]},"mark":{"type":"text","text":"oriLyt R","fontSize":10.5,"fontWeight":"bold","fontStyle":"italic","align":"right","color":"#222"},"encoding":{"x":{"datum":117.3,"scale":{"domain":[67,136.49],"range":[34,592],"nice":false,"zero":false},"axis":null},"y":{"datum":38.7,"scale":{"domain":[0,45],"range":[402,350],"nice":false,"zero":false},"axis":null}}},
  {"data":{"values":[{}]},"mark":{"type":"text","text":"Rta","fontSize":12,"fontWeight":"bold","align":"left","color":"#111"},"encoding":{"x":{"datum":137.49,"scale":{"domain":[67,136.49],"range":[34,592],"nice":false,"zero":false},"axis":null},"y":{"datum":22.5,"scale":{"domain":[0,45],"range":[402,350],"nice":false,"zero":false},"axis":null}}},
  {"data":{"values":[{}]},"mark":{"type":"text","text":"+VPA","fontSize":12,"fontWeight":"bold","align":"left","color":"#111"},"encoding":{"x":{"datum":143.09,"scale":{"domain":[67,136.49],"range":[34,592],"nice":false,"zero":false},"axis":null},"y":{"datum":4.3,"scale":{"domain":[0,45],"range":[402,350],"nice":false,"zero":false},"axis":null}}},
  {"data":{"values":[{}]},"mark":{"type":"rule","color":"black","strokeWidth":2},"encoding":{"x":{"datum":142.22,"scale":{"domain":[67,136.49],"range":[34,592],"nice":false,"zero":false},"axis":null},"y":{"datum":40.7,"scale":{"domain":[0,45],"range":[402,350],"nice":false,"zero":false},"axis":null},"y2":{"datum":-34}}}
 ]},
 {"layer":[
  {"data":{"values":[{}]},"mark":{"type":"rect","color":"#f5f5f5"},"encoding":{"x":{"datum":67,"scale":{"domain":[67,136.49],"range":[34,592],"nice":false,"zero":false},"axis":null},"x2":{"datum":136.49},"y":{"datum":0,"scale":{"domain":[0,49],"range":[453,402],"nice":false,"zero":false},"axis":null},"y2":{"datum":49}}},
  {"data":{"name":"greenB"},"mark":{"type":"rule","color":"#3de83d","strokeWidth":2.6},"encoding":{"x":{"field":"k","type":"quantitative","scale":{"domain":[67,136.49],"range":[34,592],"nice":false,"zero":false},"axis":null},"y":{"field":"v","type":"quantitative","scale":{"domain":[0,49],"range":[453,402],"nice":false,"zero":false},"axis":null},"y2":{"datum":0}}},
  {"data":{"values":[{}]},"mark":{"type":"rule","color":"#a8a8a8","strokeWidth":1.5},"encoding":{"x":{"datum":67,"scale":{"domain":[67,136.49],"range":[34,592],"nice":false,"zero":false},"axis":null},"x2":{"datum":136.49},"y":{"datum":0,"scale":{"domain":[0,49],"range":[453,402],"nice":false,"zero":false},"axis":null}}},
  {"data":{"values":[{"p":67},{"p":136.49}]},"mark":{"type":"rule","color":"black","strokeWidth":2},"encoding":{"x":{"field":"p","type":"quantitative","scale":{"domain":[67,136.49],"range":[34,592],"nice":false,"zero":false},"axis":null},"y":{"datum":0,"scale":{"domain":[0,49],"range":[453,402],"nice":false,"zero":false},"axis":null},"y2":{"datum":49}}},
  {"data":{"values":[{}]},"mark":{"type":"rule","color":"black","strokeWidth":1.5},"encoding":{"x":{"datum":66,"scale":{"domain":[67,136.49],"range":[34,592],"nice":false,"zero":false},"axis":null},"x2":{"datum":67},"y":{"datum":0,"scale":{"domain":[0,49],"range":[453,402],"nice":false,"zero":false},"axis":null}}},
  {"data":{"values":[{}]},"mark":{"type":"text","text":"[0 – 49]","fontSize":7.5,"align":"left","color":"#2f8f2f"},"encoding":{"x":{"datum":67.25,"scale":{"domain":[67,136.49],"range":[34,592],"nice":false,"zero":false},"axis":null},"y":{"datum":41.3,"scale":{"domain":[0,49],"range":[453,402],"nice":false,"zero":false},"axis":null}}},
  {"data":{"name":"sitesB"},"mark":{"type":"rule","color":"#7a2a78","strokeWidth":1.3},"encoding":{"x":{"field":"k","type":"quantitative","scale":{"domain":[67,136.49],"range":[34,592],"nice":false,"zero":false},"axis":null},"y":{"field":"hi","type":"quantitative","scale":{"domain":[0,49],"range":[453,402],"nice":false,"zero":false},"axis":null},"y2":{"field":"lo"}}},
  {"data":{"name":"sitesB"},"mark":{"type":"point","shape":"triangle-up","size":30,"filled":true,"opacity":1,"color":"#7a2a78","yOffset":1.8},"encoding":{"x":{"field":"k","type":"quantitative","scale":{"domain":[67,136.49],"range":[34,592],"nice":false,"zero":false},"axis":null},"y":{"field":"hi","type":"quantitative","scale":{"domain":[0,49],"range":[453,402],"nice":false,"zero":false},"axis":null}}},
  {"data":{"name":"sitesB"},"mark":{"type":"point","shape":"triangle-down","size":30,"filled":true,"opacity":1,"color":"#7a2a78","yOffset":-1.8},"encoding":{"x":{"field":"k","type":"quantitative","scale":{"domain":[67,136.49],"range":[34,592],"nice":false,"zero":false},"axis":null},"y":{"field":"lo","type":"quantitative","scale":{"domain":[0,49],"range":[453,402],"nice":false,"zero":false},"axis":null}}},
  {"data":{"values":[{"t":"RBP-","v":31.7},{"t":"Jk","v":16.3}]},"mark":{"type":"text","fontSize":12,"fontWeight":"bold","color":"#111"},"encoding":{"x":{"datum":138.86,"scale":{"domain":[67,136.49],"range":[34,592],"nice":false,"zero":false},"axis":null},"y":{"field":"v","type":"quantitative","scale":{"domain":[0,49],"range":[453,402],"nice":false,"zero":false},"axis":null},"text":{"field":"t"}}},
  {"data":{"values":[{}]},"mark":{"type":"text","text":"Read Depth","fontSize":13,"fontWeight":"bold","angle":270,"color":"#111"},"encoding":{"x":{"datum":64.26,"scale":{"domain":[67,136.49],"range":[34,592],"nice":false,"zero":false},"axis":null},"y":{"datum":27,"scale":{"domain":[0,49],"range":[453,402],"nice":false,"zero":false},"axis":null}}}
 ]},
 {"layer":[
  {"data":{"values":[{}]},"mark":{"type":"rect","color":"#f5f5f5"},"encoding":{"x":{"datum":67,"scale":{"domain":[67,136.49],"range":[34,592],"nice":false,"zero":false},"axis":null},"x2":{"datum":136.49},"y":{"datum":0,"scale":{"domain":[0,19],"range":[503,453],"nice":false,"zero":false},"axis":null},"y2":{"datum":19}}},
  {"data":{"name":"redB"},"mark":{"type":"rule","color":"#e8112d","strokeWidth":2.6},"encoding":{"x":{"field":"k","type":"quantitative","scale":{"domain":[67,136.49],"range":[34,592],"nice":false,"zero":false},"axis":null},"y":{"field":"v","type":"quantitative","scale":{"domain":[0,19],"range":[503,453],"nice":false,"zero":false},"axis":null},"y2":{"datum":0}}},
  {"data":{"values":[{}]},"mark":{"type":"rule","color":"black","strokeWidth":2},"encoding":{"x":{"datum":66,"scale":{"domain":[67,136.49],"range":[34,592],"nice":false,"zero":false},"axis":null},"x2":{"datum":136.49},"y":{"datum":0,"scale":{"domain":[0,19],"range":[503,453],"nice":false,"zero":false},"axis":null}}},
  {"data":{"values":[{"p":67},{"p":136.49}]},"mark":{"type":"rule","color":"black","strokeWidth":2},"encoding":{"x":{"field":"p","type":"quantitative","scale":{"domain":[67,136.49],"range":[34,592],"nice":false,"zero":false},"axis":null},"y":{"datum":0,"scale":{"domain":[0,19],"range":[503,453],"nice":false,"zero":false},"axis":null},"y2":{"datum":19}}},
  {"data":{"values":[{}]},"mark":{"type":"text","text":"[0 – 19]","fontSize":7.5,"align":"left","color":"#d9232f"},"encoding":{"x":{"datum":67.25,"scale":{"domain":[67,136.49],"range":[34,592],"nice":false,"zero":false},"axis":null},"y":{"datum":16.3,"scale":{"domain":[0,19],"range":[503,453],"nice":false,"zero":false},"axis":null}}},
  {"data":{"name":"sitesB"},"mark":{"type":"point","shape":"M -0.36 1 L 0 -1 L 0.36 1 Z","size":256,"filled":true,"opacity":1,"color":"#6a1462","strokeWidth":0},"encoding":{"x":{"field":"k","type":"quantitative","scale":{"domain":[67,136.49],"range":[34,592],"nice":false,"zero":false},"axis":null},"y":{"datum":-4.5,"scale":{"domain":[0,19],"range":[503,453],"nice":false,"zero":false},"axis":null}}},
  {"data":{"values":[{"t":"RBP-","v":13.3},{"t":"Jk","v":7.6}]},"mark":{"type":"text","fontSize":12,"fontWeight":"bold","color":"#111"},"encoding":{"x":{"datum":138.86,"scale":{"domain":[67,136.49],"range":[34,592],"nice":false,"zero":false},"axis":null},"y":{"field":"v","type":"quantitative","scale":{"domain":[0,19],"range":[503,453],"nice":false,"zero":false},"axis":null},"text":{"field":"t"}}},
  {"data":{"values":[{}]},"mark":{"type":"text","text":"-VPA","fontSize":12,"fontWeight":"bold","align":"left","color":"#111"},"encoding":{"x":{"datum":143.46,"scale":{"domain":[67,136.49],"range":[34,592],"nice":false,"zero":false},"axis":null},"y":{"datum":9.9,"scale":{"domain":[0,19],"range":[503,453],"nice":false,"zero":false},"axis":null}}},
  {"data":{"values":[{}]},"mark":{"type":"rule","color":"black","strokeWidth":2},"encoding":{"x":{"datum":142.22,"scale":{"domain":[67,136.49],"range":[34,592],"nice":false,"zero":false},"axis":null},"y":{"datum":17.5,"scale":{"domain":[0,19],"range":[503,453],"nice":false,"zero":false},"axis":null},"y2":{"datum":3}}}
 ]}
],"resolve":{"scale":{"y":"independent"},"axis":{"y":"independent"}}}
],
"resolve":{"scale":{"x":"independent","y":"independent"},"axis":{"x":"independent","y":"independent"}}
}
